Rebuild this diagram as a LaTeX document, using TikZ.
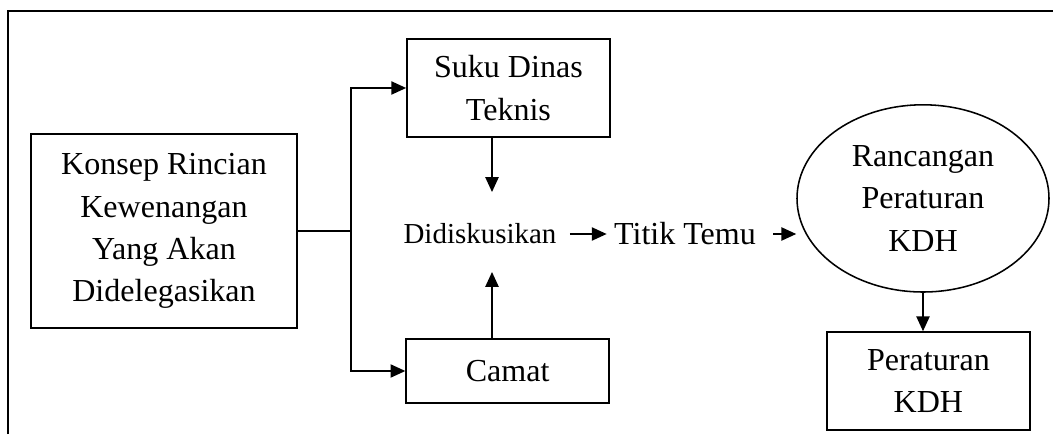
\documentclass[tikz,border=0pt]{standalone}
\usepackage{fontspec}
\setmainfont{Liberation Serif}
\usetikzlibrary{arrows.meta,shapes.geometric}
\tikzset{
  kotak/.style={draw,line width=1.1pt,align=center,inner sep=0pt,
    font=\fontsize{22.8}{30}\selectfont},
  teks/.style={inner sep=0.18cm,font=\fontsize{22.8}{30}\selectfont},
  panah/.style={line width=1.1pt,-{Triangle[length=3.7mm,width=3.3mm]}}
}
\begin{document}
\begin{tikzpicture}
\useasboundingbox (0,0) rectangle (26.325,10.85);
\draw[line width=1.3pt] (0.19,0) -- (0.19,10.575) -- (26.325,10.575);

\node[kotak,minimum width=6.65cm,minimum height=4.85cm] (konsep) at (4.1,5.075)
  {Konsep Rincian\\Kewenangan\\Yang Akan\\Didelegasikan};
\node[kotak,minimum width=5.075cm,minimum height=2.45cm] (suku) at (12.71,8.65)
  {Suku Dinas\\Teknis};
\node[kotak,minimum width=5.075cm,minimum height=1.6cm] (camat) at (12.69,1.575)
  {Camat};
\node[teks,font=\fontsize{20.6}{26}\selectfont] (diskusi) at (12.0,5.0) {Didiskusikan};
\node[teks] (titik) at (17.125,5.0) {Titik Temu};
\node[kotak,ellipse,minimum width=6.3cm,minimum height=4.68cm] (rancangan) at (23.075,5.89)
  {Rancangan\\Peraturan\\KDH};
\node[kotak,minimum width=5.075cm,minimum height=2.45cm] (perkdh) at (23.21,1.325)
  {Peraturan\\KDH};

\coordinate (cabang) at (8.77,5.075);
\coordinate (atas) at (12.3,6.05);
\coordinate (bawah) at (12.3,4.05);

\draw[line width=1.1pt] (konsep.east) -- (cabang);
\draw[panah] (cabang) |- (suku.west);
\draw[panah] (cabang) |- (camat.west);
\draw[panah] (suku.south -| atas) -- (atas);
\draw[panah] (camat.north -| bawah) -- (bawah);
\draw[panah,shorten <=0.15cm] (diskusi) -- (titik);
\draw[panah,shorten <=0.25cm] (titik.east) -- (rancangan.west |- titik.east);
\draw[panah] (rancangan.south) -- (rancangan.south |- perkdh.north);
\end{tikzpicture}
\end{document}
